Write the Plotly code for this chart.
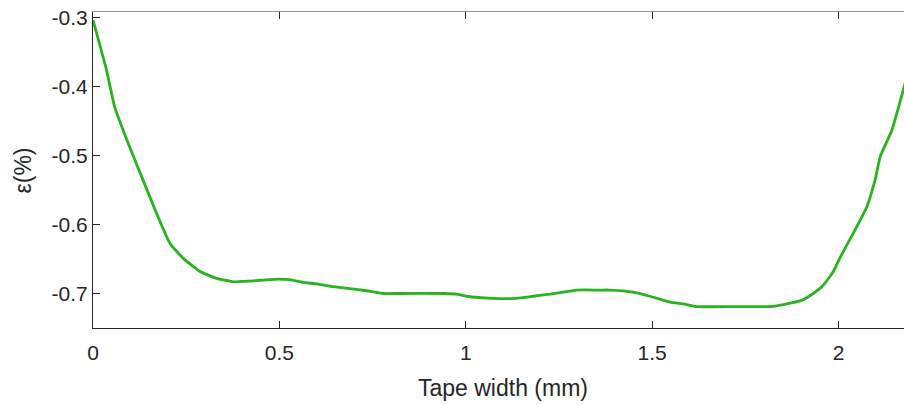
import plotly.graph_objects as go

# Strain profile across the tape width
tape_width_mm = [0.000, 0.036, 0.058, 0.098, 0.134, 0.170, 0.206, 0.242, 0.287, 0.331,
                 0.375, 0.420, 0.497, 0.528, 0.564, 0.600, 0.644, 0.689, 0.734, 0.778,
                 0.823, 0.944, 0.975, 1.002, 1.073, 1.136, 1.181, 1.226, 1.262, 1.297,
                 1.360, 1.387, 1.449, 1.494, 1.552, 1.583, 1.619, 1.718, 1.816, 1.852,
                 1.901, 1.932, 1.959, 1.986, 2.004, 2.040, 2.076, 2.098, 2.112, 2.143,
                 2.176, 2.180]
strain_pct = [-0.303, -0.375, -0.429, -0.487, -0.535, -0.583, -0.627, -0.649, -0.668, -0.678,
              -0.683, -0.682, -0.679, -0.680, -0.684, -0.686, -0.690, -0.693, -0.696, -0.700,
              -0.700, -0.700, -0.701, -0.704, -0.707, -0.707, -0.704, -0.701, -0.698, -0.695,
              -0.695, -0.695, -0.698, -0.704, -0.713, -0.715, -0.719, -0.719, -0.719, -0.716,
              -0.710, -0.700, -0.688, -0.668, -0.648, -0.612, -0.574, -0.535, -0.501, -0.463,
              -0.400, -0.392]

x_ticks = [0, 0.5, 1, 1.5, 2]
x_tick_labels = ["0", "0.5", "1", "1.5", "2"]
y_ticks = [-0.7, -0.6, -0.5, -0.4, -0.3]
y_tick_labels = ["-0.7", "-0.6", "-0.5", "-0.4", "-0.3"]

x_title = "Tape width (mm)"
y_title = "ε(%)"

X_RANGE = [0, 2.1756]
Y_RANGE = [-0.7501, -0.2913]

TEXT = "#262626"
FONT = "Liberation Sans, Arial, sans-serif"

fig = go.Figure()
fig.add_trace(go.Scatter(
    x=tape_width_mm, y=strain_pct, mode="lines",
    line=dict(color="rgb(40,180,30)", width=2.8, shape="spline", smoothing=0.4),
    showlegend=False, hoverinfo="skip",
))
# invisible copies so the overlay axes (inside tick marks, top box edge) are drawn
for xa, ya in (("x2", "y"), ("x3", "y"), ("x", "y2")):
    fig.add_trace(go.Scatter(
        x=tape_width_mm, y=strain_pct, xaxis=xa, yaxis=ya, mode="lines",
        opacity=0, showlegend=False, hoverinfo="skip",
    ))

tick_marks = dict(ticks="inside", ticklen=7, tickwidth=1, tickcolor=TEXT,
                  showticklabels=False, showgrid=False, zeroline=False)

fig.update_layout(
    width=904, height=405,
    margin=dict(l=93, r=0, t=12, b=77),
    paper_bgcolor="white", plot_bgcolor="white",
    showlegend=False,
    font=dict(family=FONT, size=21, color=TEXT),
    # labelled axes: transparent outside ticks only set the label gap
    xaxis=dict(
        range=X_RANGE, tickvals=x_ticks, ticktext=x_tick_labels,
        showgrid=False, zeroline=False, showline=True, linecolor=TEXT, linewidth=1,
        ticks="outside", ticklen=6, tickcolor="rgba(0,0,0,0)",
    ),
    yaxis=dict(
        range=Y_RANGE, tickvals=y_ticks, ticktext=y_tick_labels,
        showgrid=False, zeroline=False, showline=True, linecolor=TEXT, linewidth=1,
        ticks="inside", ticklen=7, tickwidth=1, tickcolor=TEXT,
    ),
    # top box edge with inside ticks
    xaxis2=dict(overlaying="x", side="top", anchor="y", range=X_RANGE, tickvals=x_ticks,
                showline=True, linecolor="#999999", linewidth=1.3, **tick_marks),
    # inside tick marks on the bottom edge
    xaxis3=dict(overlaying="x", side="bottom", anchor="y", range=X_RANGE, tickvals=x_ticks,
                showline=False, **tick_marks),
    yaxis2=dict(overlaying="y", side="left", anchor="x", range=Y_RANGE, tickvals=y_ticks,
                showline=False, **tick_marks),
    annotations=[
        dict(text=x_title, xref="x", yref="paper", x=1.10, y=-0.19,
             xanchor="center", yanchor="middle", showarrow=False,
             font=dict(family=FONT, size=23, color=TEXT)),
        dict(text=y_title, xref="paper", yref="paper", x=-0.0857, y=0.5,
             xanchor="center", yanchor="middle", textangle=-90, showarrow=False,
             font=dict(family=FONT, size=23, color=TEXT)),
    ],
)

fig.write_html("out.html")
